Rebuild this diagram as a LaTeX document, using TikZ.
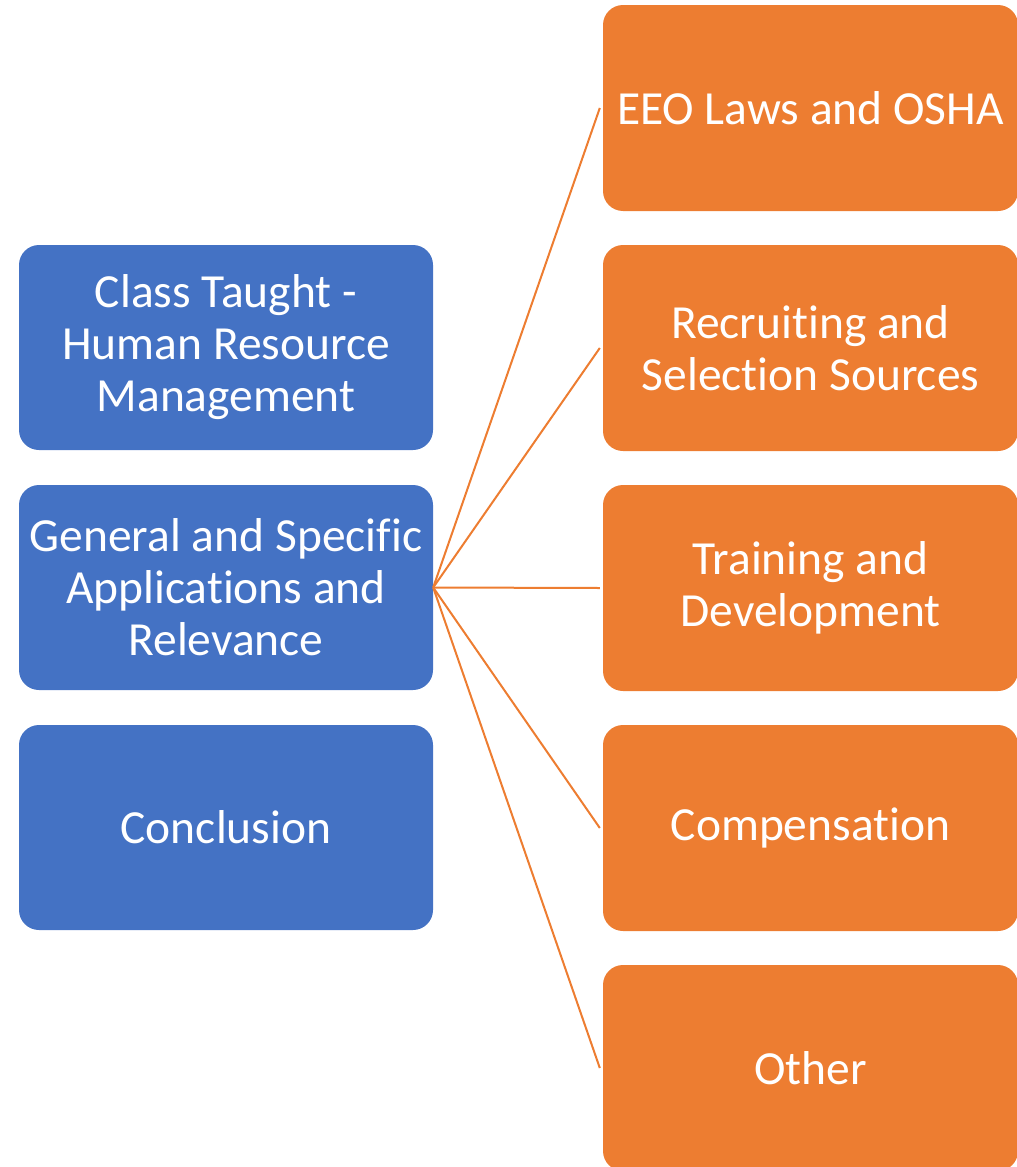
\documentclass[tikz,border=0pt]{standalone}
\usepackage{fontspec}
\setmainfont{Carlito}[Ligatures=NoCommon,RawFeature={-liga;-clig;-calt;-dlig}]
\definecolor{boxblue}{HTML}{4472C4}
\definecolor{boxorange}{HTML}{ED7D31}
\begin{document}
\begin{tikzpicture}[x=1pt,y=-1pt,
  bluebox/.style={fill=boxblue, rounded corners=20pt, minimum width=414pt, minimum height=205pt, inner sep=0pt, align=center, text=white, font=\fontsize{47.5}{52}\selectfont},
  orangebox/.style={fill=boxorange, rounded corners=20pt, minimum width=415pt, minimum height=206pt, inner sep=0pt, align=center, text=white, font=\fontsize{47.5}{52}\selectfont},
  link/.style={draw=boxorange, line width=2pt}]
\useasboundingbox (0,0) rectangle (1017,1167);
\clip (0,0) rectangle (1017,1167);
\node[bluebox] (b1) at (226,347.5) {Class Taught -\\Human Resource\\Management};
\node[bluebox] (b2) at (226,587.5) {General and Specific\\Applications and\\Relevance};
\node[bluebox] (b3) at (226,827.5) {Conclusion};
\node[orangebox] (o1) at (810.5,108) {EEO Laws and OSHA};
\node[orangebox] (o2) at (810.5,348) {Recruiting and\\Selection Sources};
\node[orangebox] (o3) at (810.5,588) {Training and\\Development};
\node[orangebox] (o4) at (810.5,828) {Compensation};
\node[orangebox] (o5) at (810.5,1068) {Other};
\foreach \t in {o1,o2,o3,o4,o5}{
  \draw[link] (b2.east) -- ([xshift=-3pt]\t.west);
}
\end{tikzpicture}
\end{document}
